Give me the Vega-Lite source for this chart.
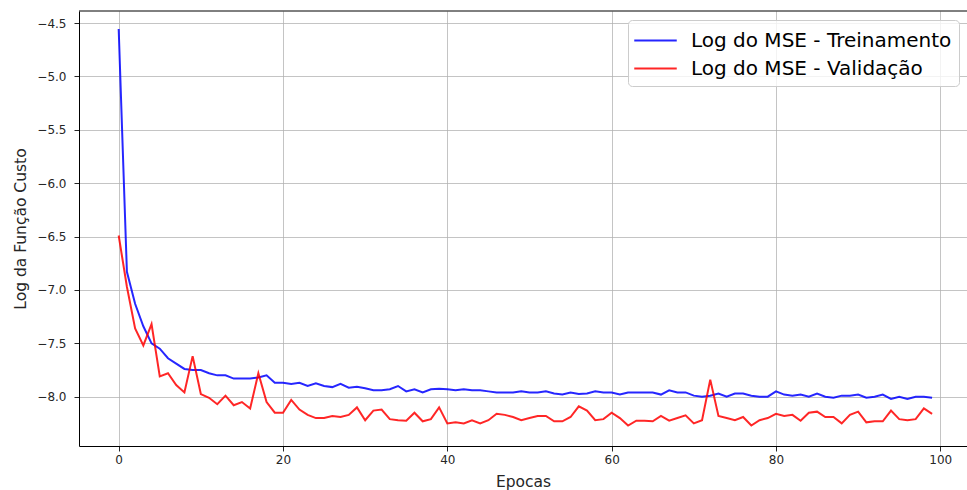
{
  "$schema": "https://vega.github.io/schema/vega-lite/v6.json",
  "width": 888,
  "height": 435,
  "autosize": {"type": "none"},
  "padding": {"left": 79, "top": 11, "right": 0, "bottom": 44},
  "background": "white",
  "config": {
    "font": "DejaVu Sans",
    "view": {"stroke": null},
    "axis": {
      "labelFont": "DejaVu Sans",
      "titleFont": "DejaVu Sans",
      "labelFontSize": 12,
      "titleFontSize": 15.5,
      "titleFontWeight": "normal",
      "labelColor": "#262626",
      "titleColor": "#262626",
      "domainColor": "#000000",
      "domainWidth": 1,
      "tickColor": "#262626",
      "tickSize": 5,
      "tickWidth": 1,
      "gridColor": "#b0b0b0",
      "gridWidth": 1,
      "gridOpacity": 0.75
    }
  },
  "layer": [
    {
      "data": {
        "values": [
          {"epoch":0,"Log do MSE - Treinamento":-4.556,"Log do MSE - Validação":-6.49},
          {"epoch":1,"Log do MSE - Treinamento":-6.83,"Log do MSE - Validação":-6.97},
          {"epoch":2,"Log do MSE - Treinamento":-7.13,"Log do MSE - Validação":-7.36},
          {"epoch":3,"Log do MSE - Treinamento":-7.34,"Log do MSE - Validação":-7.52},
          {"epoch":4,"Log do MSE - Treinamento":-7.50,"Log do MSE - Validação":-7.32},
          {"epoch":5,"Log do MSE - Treinamento":-7.55,"Log do MSE - Validação":-7.81},
          {"epoch":6,"Log do MSE - Treinamento":-7.64,"Log do MSE - Validação":-7.78},
          {"epoch":7,"Log do MSE - Treinamento":-7.69,"Log do MSE - Validação":-7.89},
          {"epoch":8,"Log do MSE - Treinamento":-7.74,"Log do MSE - Validação":-7.96},
          {"epoch":9,"Log do MSE - Treinamento":-7.75,"Log do MSE - Validação":-7.62},
          {"epoch":10,"Log do MSE - Treinamento":-7.75,"Log do MSE - Validação":-7.975},
          {"epoch":11,"Log do MSE - Treinamento":-7.78,"Log do MSE - Validação":-8.01},
          {"epoch":12,"Log do MSE - Treinamento":-7.80,"Log do MSE - Validação":-8.07},
          {"epoch":13,"Log do MSE - Treinamento":-7.80,"Log do MSE - Validação":-7.99},
          {"epoch":14,"Log do MSE - Treinamento":-7.83,"Log do MSE - Validação":-8.08},
          {"epoch":15,"Log do MSE - Treinamento":-7.83,"Log do MSE - Validação":-8.05},
          {"epoch":16,"Log do MSE - Treinamento":-7.83,"Log do MSE - Validação":-8.11},
          {"epoch":17,"Log do MSE - Treinamento":-7.82,"Log do MSE - Validação":-7.78},
          {"epoch":18,"Log do MSE - Treinamento":-7.80,"Log do MSE - Validação":-8.05},
          {"epoch":19,"Log do MSE - Treinamento":-7.87,"Log do MSE - Validação":-8.15},
          {"epoch":20,"Log do MSE - Treinamento":-7.87,"Log do MSE - Validação":-8.15},
          {"epoch":21,"Log do MSE - Treinamento":-7.88,"Log do MSE - Validação":-8.03},
          {"epoch":22,"Log do MSE - Treinamento":-7.87,"Log do MSE - Validação":-8.12},
          {"epoch":23,"Log do MSE - Treinamento":-7.90,"Log do MSE - Validação":-8.17},
          {"epoch":24,"Log do MSE - Treinamento":-7.875,"Log do MSE - Validação":-8.20},
          {"epoch":25,"Log do MSE - Treinamento":-7.90,"Log do MSE - Validação":-8.20},
          {"epoch":26,"Log do MSE - Treinamento":-7.91,"Log do MSE - Validação":-8.18},
          {"epoch":27,"Log do MSE - Treinamento":-7.88,"Log do MSE - Validação":-8.19},
          {"epoch":28,"Log do MSE - Treinamento":-7.915,"Log do MSE - Validação":-8.17},
          {"epoch":29,"Log do MSE - Treinamento":-7.906,"Log do MSE - Validação":-8.10},
          {"epoch":30,"Log do MSE - Treinamento":-7.92,"Log do MSE - Validação":-8.22},
          {"epoch":31,"Log do MSE - Treinamento":-7.94,"Log do MSE - Validação":-8.13},
          {"epoch":32,"Log do MSE - Treinamento":-7.94,"Log do MSE - Validação":-8.12},
          {"epoch":33,"Log do MSE - Treinamento":-7.93,"Log do MSE - Validação":-8.21},
          {"epoch":34,"Log do MSE - Treinamento":-7.90,"Log do MSE - Validação":-8.22},
          {"epoch":35,"Log do MSE - Treinamento":-7.95,"Log do MSE - Validação":-8.225},
          {"epoch":36,"Log do MSE - Treinamento":-7.93,"Log do MSE - Validação":-8.15},
          {"epoch":37,"Log do MSE - Treinamento":-7.96,"Log do MSE - Validação":-8.23},
          {"epoch":38,"Log do MSE - Treinamento":-7.93,"Log do MSE - Validação":-8.21},
          {"epoch":39,"Log do MSE - Treinamento":-7.925,"Log do MSE - Validação":-8.10},
          {"epoch":40,"Log do MSE - Treinamento":-7.93,"Log do MSE - Validação":-8.25},
          {"epoch":41,"Log do MSE - Treinamento":-7.94,"Log do MSE - Validação":-8.24},
          {"epoch":42,"Log do MSE - Treinamento":-7.93,"Log do MSE - Validação":-8.25},
          {"epoch":43,"Log do MSE - Treinamento":-7.94,"Log do MSE - Validação":-8.22},
          {"epoch":44,"Log do MSE - Treinamento":-7.94,"Log do MSE - Validação":-8.25},
          {"epoch":45,"Log do MSE - Treinamento":-7.95,"Log do MSE - Validação":-8.22},
          {"epoch":46,"Log do MSE - Treinamento":-7.96,"Log do MSE - Validação":-8.16},
          {"epoch":47,"Log do MSE - Treinamento":-7.96,"Log do MSE - Validação":-8.17},
          {"epoch":48,"Log do MSE - Treinamento":-7.96,"Log do MSE - Validação":-8.19},
          {"epoch":49,"Log do MSE - Treinamento":-7.95,"Log do MSE - Validação":-8.22},
          {"epoch":50,"Log do MSE - Treinamento":-7.96,"Log do MSE - Validação":-8.20},
          {"epoch":51,"Log do MSE - Treinamento":-7.96,"Log do MSE - Validação":-8.18},
          {"epoch":52,"Log do MSE - Treinamento":-7.95,"Log do MSE - Validação":-8.18},
          {"epoch":53,"Log do MSE - Treinamento":-7.97,"Log do MSE - Validação":-8.23},
          {"epoch":54,"Log do MSE - Treinamento":-7.98,"Log do MSE - Validação":-8.23},
          {"epoch":55,"Log do MSE - Treinamento":-7.96,"Log do MSE - Validação":-8.19},
          {"epoch":56,"Log do MSE - Treinamento":-7.975,"Log do MSE - Validação":-8.09},
          {"epoch":57,"Log do MSE - Treinamento":-7.97,"Log do MSE - Validação":-8.13},
          {"epoch":58,"Log do MSE - Treinamento":-7.95,"Log do MSE - Validação":-8.22},
          {"epoch":59,"Log do MSE - Treinamento":-7.96,"Log do MSE - Validação":-8.21},
          {"epoch":60,"Log do MSE - Treinamento":-7.96,"Log do MSE - Validação":-8.15},
          {"epoch":61,"Log do MSE - Treinamento":-7.98,"Log do MSE - Validação":-8.20},
          {"epoch":62,"Log do MSE - Treinamento":-7.96,"Log do MSE - Validação":-8.27},
          {"epoch":63,"Log do MSE - Treinamento":-7.96,"Log do MSE - Validação":-8.225},
          {"epoch":64,"Log do MSE - Treinamento":-7.96,"Log do MSE - Validação":-8.225},
          {"epoch":65,"Log do MSE - Treinamento":-7.96,"Log do MSE - Validação":-8.23},
          {"epoch":66,"Log do MSE - Treinamento":-7.98,"Log do MSE - Validação":-8.18},
          {"epoch":67,"Log do MSE - Treinamento":-7.94,"Log do MSE - Validação":-8.225},
          {"epoch":68,"Log do MSE - Treinamento":-7.96,"Log do MSE - Validação":-8.20},
          {"epoch":69,"Log do MSE - Treinamento":-7.96,"Log do MSE - Validação":-8.175},
          {"epoch":70,"Log do MSE - Treinamento":-7.99,"Log do MSE - Validação":-8.25},
          {"epoch":71,"Log do MSE - Treinamento":-8.00,"Log do MSE - Validação":-8.22},
          {"epoch":72,"Log do MSE - Treinamento":-7.99,"Log do MSE - Validação":-7.84},
          {"epoch":73,"Log do MSE - Treinamento":-7.97,"Log do MSE - Validação":-8.18},
          {"epoch":74,"Log do MSE - Treinamento":-8.00,"Log do MSE - Validação":-8.20},
          {"epoch":75,"Log do MSE - Treinamento":-7.97,"Log do MSE - Validação":-8.22},
          {"epoch":76,"Log do MSE - Treinamento":-7.97,"Log do MSE - Validação":-8.19},
          {"epoch":77,"Log do MSE - Treinamento":-7.99,"Log do MSE - Validação":-8.27},
          {"epoch":78,"Log do MSE - Treinamento":-8.00,"Log do MSE - Validação":-8.22},
          {"epoch":79,"Log do MSE - Treinamento":-8.00,"Log do MSE - Validação":-8.20},
          {"epoch":80,"Log do MSE - Treinamento":-7.95,"Log do MSE - Validação":-8.16},
          {"epoch":81,"Log do MSE - Treinamento":-7.98,"Log do MSE - Validação":-8.18},
          {"epoch":82,"Log do MSE - Treinamento":-7.99,"Log do MSE - Validação":-8.17},
          {"epoch":83,"Log do MSE - Treinamento":-7.98,"Log do MSE - Validação":-8.225},
          {"epoch":84,"Log do MSE - Treinamento":-8.00,"Log do MSE - Validação":-8.15},
          {"epoch":85,"Log do MSE - Treinamento":-7.97,"Log do MSE - Validação":-8.14},
          {"epoch":86,"Log do MSE - Treinamento":-8.00,"Log do MSE - Validação":-8.19},
          {"epoch":87,"Log do MSE - Treinamento":-8.01,"Log do MSE - Validação":-8.19},
          {"epoch":88,"Log do MSE - Treinamento":-7.99,"Log do MSE - Validação":-8.25},
          {"epoch":89,"Log do MSE - Treinamento":-7.99,"Log do MSE - Validação":-8.17},
          {"epoch":90,"Log do MSE - Treinamento":-7.98,"Log do MSE - Validação":-8.14},
          {"epoch":91,"Log do MSE - Treinamento":-8.01,"Log do MSE - Validação":-8.24},
          {"epoch":92,"Log do MSE - Treinamento":-8.00,"Log do MSE - Validação":-8.23},
          {"epoch":93,"Log do MSE - Treinamento":-7.98,"Log do MSE - Validação":-8.23},
          {"epoch":94,"Log do MSE - Treinamento":-8.02,"Log do MSE - Validação":-8.13},
          {"epoch":95,"Log do MSE - Treinamento":-8.00,"Log do MSE - Validação":-8.21},
          {"epoch":96,"Log do MSE - Treinamento":-8.02,"Log do MSE - Validação":-8.22},
          {"epoch":97,"Log do MSE - Treinamento":-8.00,"Log do MSE - Validação":-8.21},
          {"epoch":98,"Log do MSE - Treinamento":-8.00,"Log do MSE - Validação":-8.11},
          {"epoch":99,"Log do MSE - Treinamento":-8.01,"Log do MSE - Validação":-8.16}
        ]
      },
      "transform": [
        {"fold": ["Log do MSE - Treinamento", "Log do MSE - Validação"], "as": ["serie", "valor"]}
      ],
      "mark": {"type": "line", "strokeWidth": 2, "strokeOpacity": 0.85, "clip": true},
      "encoding": {
        "x": {
          "field": "epoch", "type": "quantitative",
          "scale": {"domain": [-4.83, 103.25], "nice": false, "zero": false},
          "axis": {"title": "Epocas", "values": [0, 20, 40, 60, 80, 100], "format": "d", "grid": true, "labelPadding": 3, "titlePadding": 9}
        },
        "y": {
          "field": "valor", "type": "quantitative",
          "scale": {"domain": [-8.4616, -4.3876], "nice": false, "zero": false},
          "axis": {"title": "Log da Função Custo", "values": [-8.0, -7.5, -7.0, -6.5, -6.0, -5.5, -5.0, -4.5], "format": ".1f", "grid": true, "labelPadding": 8, "titlePadding": 8}
        },
        "color": {
          "field": "serie", "type": "nominal",
          "scale": {"domain": ["Log do MSE - Treinamento", "Log do MSE - Validação"], "range": ["#0000ff", "#ff0000"]},
          "legend": {
            "title": null,
            "orient": "none",
            "legendX": 549,
            "legendY": 9,
            "symbolType": "M-1.7,0L1.7,0",
            "symbolSize": 625,
            "symbolStrokeWidth": 2,
            "symbolOpacity": 0.85,
            "symbolOffset": 7,
            "labelFontSize": 20,
            "labelFont": "DejaVu Sans",
            "labelColor": "#000000",
            "labelLimit": 500,
            "labelOffset": 22,
            "rowPadding": 4,
            "padding": 7,
            "fillColor": "rgba(255,255,255,0.8)",
            "strokeColor": "#cccccc",
            "cornerRadius": 4
          }
        }
      }
    },
    {
      "data": {"values": [{"frame": "top"}]},
      "mark": {"type": "rule", "color": "#000000", "strokeWidth": 1},
      "encoding": {
        "y": {"datum": -4.3876}
      }
    }
  ]
}
